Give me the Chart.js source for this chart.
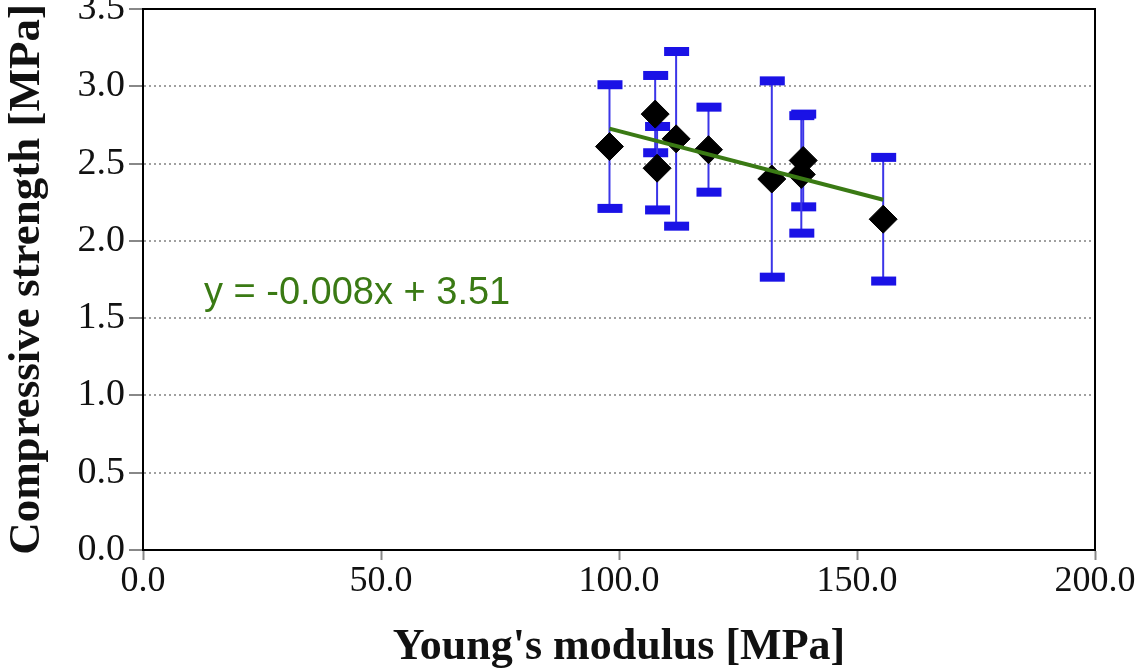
<!DOCTYPE html>
<html lang="en">
<head>
    <meta charset="UTF-8">
    <script src="https://cdn.jsdelivr.net/npm/chart.js"></script>
    <title>Compressive strength vs Young's modulus</title>
    <style>
        html, body { margin: 0; padding: 0; background: #fff; }
        .grafico { width: 1140px; height: 670px; }
    </style>
</head>
<body>
    <div class="grafico">
        <canvas id="myChartScatter"></canvas>
    </div>
<script>
    // valores
    const modulo = [98.0, 107.6, 108.0, 112.0, 118.8, 132.1, 138.7, 138.3, 155.5];
    const resistencia = [2.61, 2.82, 2.47, 2.66, 2.59, 2.40, 2.52, 2.43, 2.14];
    const erro = [0.40, 0.25, 0.27, 0.565, 0.275, 0.635, 0.30, 0.38, 0.40];

    // linha de tendencia (pontos extremos)
    const tendenciaX = [98.0, 155.5];
    const tendenciaY = [2.726, 2.266];
    const equacao = 'y = -0.008x + 3.51';
    const posEquacao = { x: 12.8, y: 1.66 };

    const xTicks = [0, 50, 100, 150, 200];
    const yTicks = [0, 0.5, 1.0, 1.5, 2.0, 2.5, 3.0, 3.5];

    const pontos = modulo.map((x, i) => ({ x: x, y: resistencia[i] }));
    const tendencia = tendenciaX.map((x, i) => ({ x: x, y: tendenciaY[i] }));

    const azul = '#1a12e6';
    const verde = '#3a7a14';

    // barras de erro + moldura + texto da equacao
    const extras = {
        id: 'extras',
        beforeDatasetsDraw(chart) {
            const ctx = chart.ctx;
            const sx = chart.scales.x, sy = chart.scales.y;
            ctx.save();
            ctx.fillStyle = azul;
            for (let i = 0; i < modulo.length; i++) {
                const px = sx.getPixelForValue(modulo[i]);
                const top = sy.getPixelForValue(resistencia[i] + erro[i]);
                const bot = sy.getPixelForValue(resistencia[i] - erro[i]);
                ctx.strokeStyle = '#3b35e8';
                ctx.lineWidth = 2;
                ctx.beginPath();
                ctx.moveTo(px, top);
                ctx.lineTo(px, bot);
                ctx.stroke();
                ctx.fillRect(px - 12, top - 4.5, 25, 9);
                ctx.fillRect(px - 12, bot - 4.5, 25, 9);
            }
            ctx.restore();
        },
        afterDraw(chart) {
            const ctx = chart.ctx;
            const a = chart.chartArea;
            ctx.save();
            ctx.strokeStyle = '#000';
            ctx.lineWidth = 2;
            ctx.strokeRect(a.left, a.top, a.right - a.left, a.bottom - a.top);
            ctx.fillStyle = verde;
            ctx.font = '38px "Liberation Sans", Arial, sans-serif';
            ctx.textBaseline = 'middle';
            ctx.fillText(equacao, chart.scales.x.getPixelForValue(posEquacao.x), chart.scales.y.getPixelForValue(posEquacao.y));
            ctx.restore();
        }
    };

    const serif = '"Liberation Serif", "Times New Roman", serif';

    const config = {
        type: 'scatter',
        data: {
            datasets: [
                {
                    label: 'tendencia',
                    type: 'line',
                    data: tendencia,
                    borderColor: verde,
                    borderWidth: 4,
                    pointRadius: 0,
                    fill: false,
                    order: 0
                },
                {
                    label: 'medidas',
                    data: pontos,
                    pointStyle: 'rectRot',
                    pointRadius: 14,
                    pointHoverRadius: 14,
                    backgroundColor: '#000',
                    borderColor: '#000',
                    order: 1
                }
            ]
        },
        options: {
            responsive: false,
            animation: false,
            layout: { autoPadding: false, padding: { top: 9, right: 45, left: 0, bottom: 0 } },
            plugins: { legend: { display: false }, tooltip: { enabled: false } },
            scales: {
                x: {
                    type: 'linear',
                    min: 0, max: 200,
                    afterBuildTicks: (s) => { s.ticks = xTicks.map(v => ({ value: v })); },
                    afterFit: (s) => { s.height = 120; },
                    border: { display: true, color: '#000', width: 2 },
                    grid: { drawOnChartArea: false, drawTicks: true, tickLength: 10, tickColor: '#888', tickWidth: 2 },
                    ticks: {
                        padding: 0,
                        color: '#111',
                        font: { family: serif, size: 36 },
                        callback: (v) => Number(v).toFixed(1)
                    },
                    title: {
                        display: true,
                        text: "Young's modulus [MPa]",
                        color: '#111',
                        font: { family: serif, size: 44, weight: 'bold' },
                        padding: { top: 18, bottom: -4 }
                    }
                },
                y: {
                    type: 'linear',
                    min: 0, max: 3.5,
                    afterBuildTicks: (s) => { s.ticks = yTicks.map(v => ({ value: v })); },
                    afterFit: (s) => { s.width = 143; s.paddingTop = 0; s.paddingBottom = 0; },
                    border: { display: true, color: '#000', width: 2, dash: [2, 3] },
                    grid: {
                        color: '#a0a0a0',
                        lineWidth: 2,
                        drawTicks: true,
                        tickLength: 14,
                        tickColor: '#888',
                        tickWidth: 2,
                        tickBorderDash: [1, 0]
                    },
                    ticks: {
                        padding: 4,
                        color: '#111',
                        font: { family: serif, size: 38 },
                        callback: (v) => Number(v).toFixed(1)
                    },
                    title: {
                        display: true,
                        text: 'Compressive strength [MPa]',
                        color: '#111',
                        font: { family: serif, size: 45, weight: 'bold' },
                        padding: { top: 0, bottom: 0 }
                    }
                }
            }
        },
        plugins: [extras]
    };

    const canvas = document.getElementById('myChartScatter');
    canvas.width = 1140;
    canvas.height = 670;
    new Chart(canvas, config);
</script>
</body>
</html>
